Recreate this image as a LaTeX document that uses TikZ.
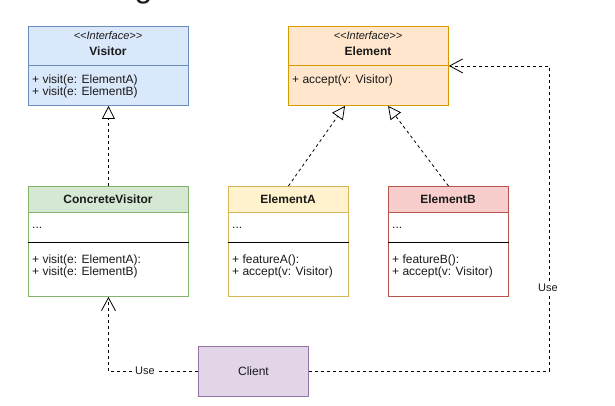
\documentclass[tikz,border=0pt]{standalone}
\usepackage{fontspec}
\setmainfont{Liberation Sans}
\usetikzlibrary{arrows.meta}
\definecolor{vfill}{HTML}{DAE8FC}\definecolor{vline}{HTML}{6C8EBF}
\definecolor{efill}{HTML}{FFE6CC}\definecolor{eline}{HTML}{D79B00}
\definecolor{gfill}{HTML}{D5E8D4}\definecolor{gline}{HTML}{82B366}
\definecolor{yfill}{HTML}{FFF2CC}\definecolor{yline}{HTML}{D6B656}
\definecolor{rfill}{HTML}{F8CECC}\definecolor{rline}{HTML}{B85450}
\definecolor{pfill}{HTML}{E1D5E7}\definecolor{pline}{HTML}{9673A6}
\definecolor{txtc}{HTML}{1A1A1A}
\begin{document}
\begin{tikzpicture}[x=1pt,y=-1pt,
  umlbox/.style={draw, line width=0.9pt, inner sep=0pt, anchor=north west, minimum width=#1},
  hdr/.style={draw, line width=0.9pt, inner sep=0pt, anchor=north west, minimum width=#1, minimum height=26pt},
  ttl/.style={font=\fontsize{12}{14}\selectfont\bfseries, text=txtc, inner sep=0pt},
  ster/.style={font=\fontsize{11}{13}\selectfont\itshape, text=txtc, inner sep=0pt},
  mem/.style={font=\fontsize{12}{14}\selectfont, text=txtc, inner sep=0pt, anchor=west},
  dsh/.style={line width=0.8pt, dash pattern=on 3pt off 3pt, draw=black},
  tri/.style={-{Triangle[open, length=13pt, width=13pt, fill=white]}},
  barb/.style={-{Straight Barb[length=13pt, width=14pt, line width=0.8pt]}},
  lbl/.style={font=\fontsize{11}{13}\selectfont, text=txtc, fill=white, inner sep=1pt}
]
\useasboundingbox (0,0) rectangle (615,406);
\clip (0,0) rectangle (615,406);
\fill[white] (0,0) rectangle (615,406);

% cut-off title (only its descender shows)
\node[font=\fontsize{32}{36}\selectfont, text=txtc, anchor=base, inner sep=0pt] (title) at (143.5,-2) {g};

% Visitor interface
\node[umlbox=160pt, minimum height=79pt, fill=vfill, draw=vline] (vis) at (28,26) {};
\draw[vline, line width=0.9pt] (vis.west |- 0,65) -- (vis.east |- 0,65);
\node[ster] (visS) at (108,36) {{<}{<}Interface{>}{>}};
\node[ttl] (visT) at (108,51) {Visitor};
\node[mem] (visM1) at (32,80) {+ visit(e: ElementA)};
\node[mem] (visM2) at (32,92) {+ visit(e: ElementB)};

% Element interface
\node[umlbox=160pt, minimum height=79pt, fill=efill, draw=eline] (elem) at (288,26) {};
\draw[eline, line width=0.9pt] (elem.west |- 0,65) -- (elem.east |- 0,65);
\node[ster] (elS) at (368,36) {{<}{<}Interface{>}{>}};
\node[ttl] (elT) at (368,51) {Element};
\node[mem] (elM1) at (292,80) {+ accept(v: Visitor)};

% ConcreteVisitor
\node[umlbox=160pt, minimum height=110pt, fill=white, draw=gline] (cv) at (28,186) {};
\node[hdr=160pt, fill=gfill, draw=gline] (cvH) at (28,186) {};
\draw[black, line width=0.9pt] (cv.west |- 0,242) -- (cv.east |- 0,242);
\node[ttl] (cvT) at (108,199.5) {ConcreteVisitor};
\node[mem] (cvA) at (32,228) {...};
\node[mem] (cvM1) at (32,260) {+ visit(e: ElementA):};
\node[mem] (cvM2) at (32,272) {+ visit(e: ElementB)};

% ElementA
\node[umlbox=120pt, minimum height=110pt, fill=white, draw=yline] (ea) at (228,186) {};
\node[hdr=120pt, fill=yfill, draw=yline] (eaH) at (228,186) {};
\draw[black, line width=0.9pt] (ea.west |- 0,242) -- (ea.east |- 0,242);
\node[ttl] (eaT) at (288,199.5) {ElementA};
\node[mem] (eaA) at (232,228) {...};
\node[mem] (eaM1) at (232,260) {+ featureA():};
\node[mem] (eaM2) at (232,272) {+ accept(v: Visitor)};

% ElementB
\node[umlbox=120pt, minimum height=110pt, fill=white, draw=rline] (eb) at (388,186) {};
\node[hdr=120pt, fill=rfill, draw=rline] (ebH) at (388,186) {};
\draw[black, line width=0.9pt] (eb.west |- 0,242) -- (eb.east |- 0,242);
\node[ttl] (ebT) at (448,199.5) {ElementB};
\node[mem] (ebA) at (392,228) {...};
\node[mem] (ebM1) at (392,260) {+ featureB():};
\node[mem] (ebM2) at (392,272) {+ accept(v: Visitor)};

% Client
\node[umlbox=110pt, minimum height=50pt, fill=pfill, draw=pline] (cl) at (198,346) {};
\node[font=\fontsize{12}{14}\selectfont, text=txtc, inner sep=0pt] (clT) at (cl.center) {Client};

% connectors
\draw[dsh, tri] (cvH.north) -- (vis.south);
\draw[dsh, tri] (eaH.north) -- ([xshift=57pt]elem.south west);
\draw[dsh, tri] (ebH.north) -- ([xshift=100pt]elem.south west);
\draw[dsh, barb] (cl.east) -- ++(240,0) coordinate (crn) |- (elem.east);
\node[lbl] (use2) at (548,288) {Use};
\draw[dsh, barb] (cl.west) -| (cv.south);
\node[lbl] (use1) at (145,371) {Use};
\end{tikzpicture}
\end{document}
